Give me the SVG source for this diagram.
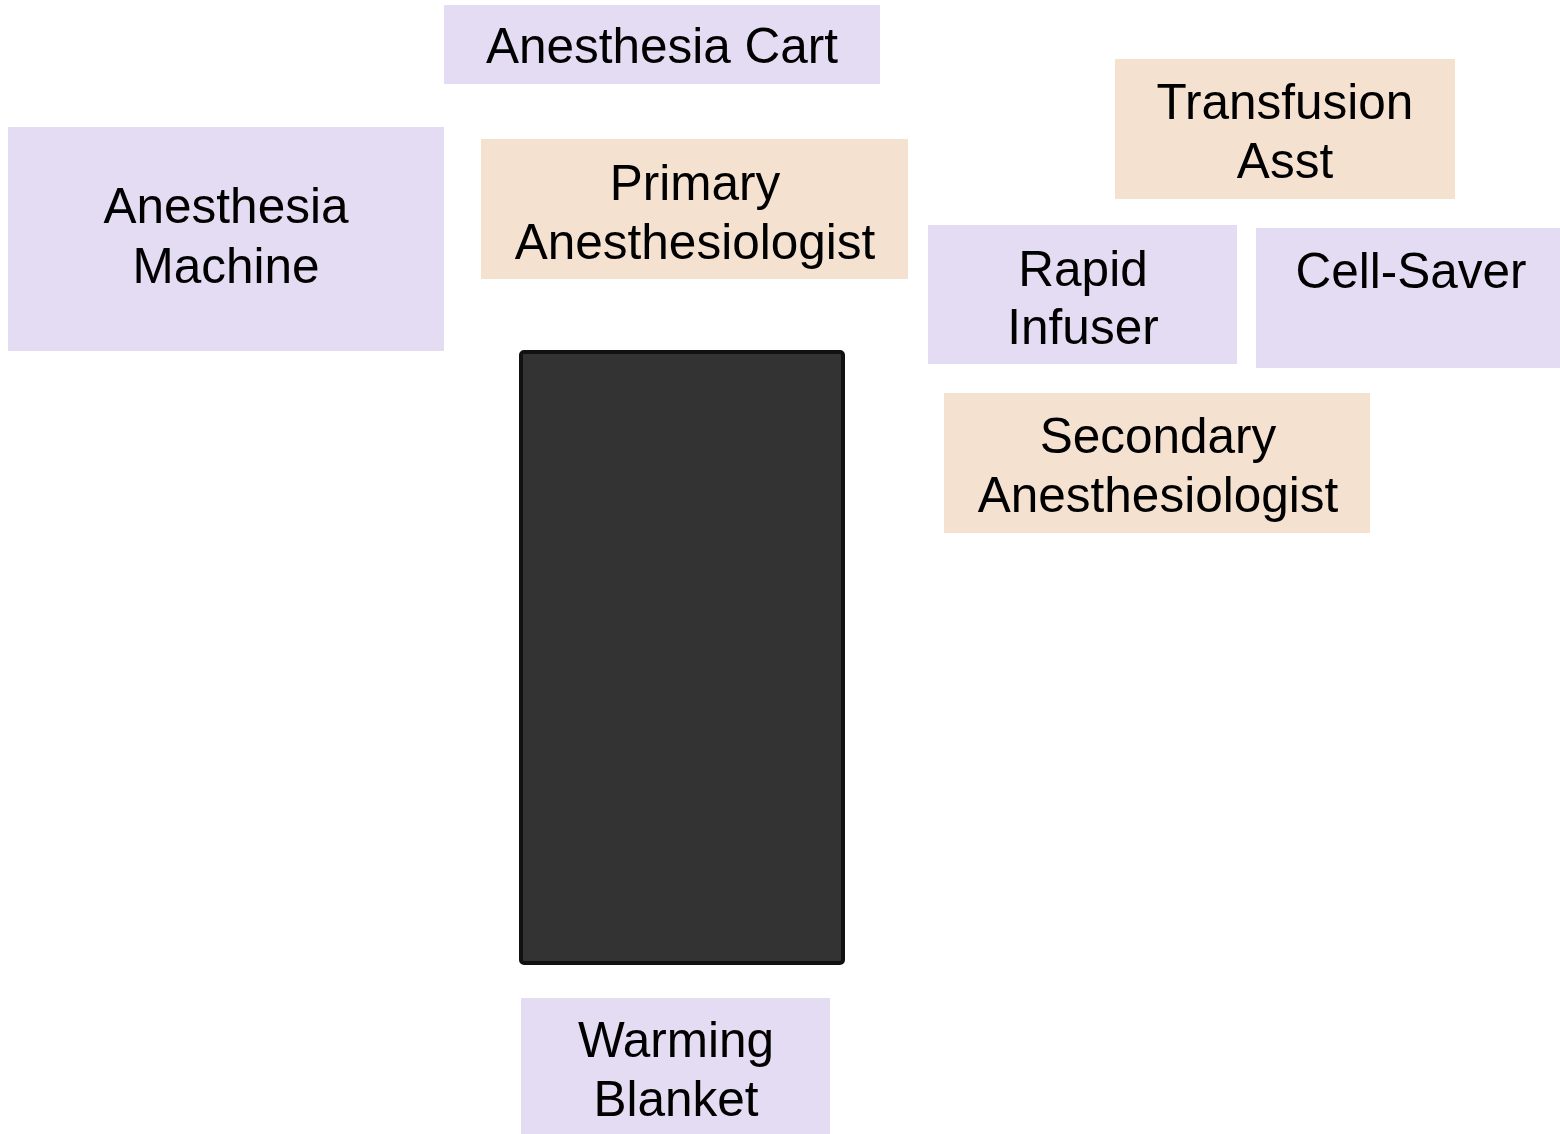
<svg xmlns="http://www.w3.org/2000/svg" width="1560" height="1134" viewBox="0 0 1560 1134">
  <style>
    .equip { fill: #e3dcf2; }
    .staff { fill: #f5e1d0; }
    .label { font-family: "Liberation Sans", Arial, sans-serif; font-size: 49.5px; fill: #000; text-anchor: middle; }
    .table { fill: #333333; stroke: #111111; stroke-width: 4; }
  </style>
  <rect width="1560" height="1134" fill="#ffffff"/>

  <g id="anesthesia-cart">
    <rect class="equip" x="444" y="5" width="436" height="79"/>
    <text class="label" x="662" y="63">Anesthesia Cart</text>
  </g>

  <g id="anesthesia-machine">
    <rect class="equip" x="8" y="127" width="436" height="224"/>
    <text class="label" x="226" y="223">Anesthesia</text>
    <text class="label" x="226" y="283">Machine</text>
  </g>

  <g id="primary-anesthesiologist">
    <rect class="staff" x="481" y="139" width="427" height="140"/>
    <text class="label" x="695" y="200">Primary</text>
    <text class="label" x="695" y="259">Anesthesiologist</text>
  </g>

  <g id="transfusion-asst">
    <rect class="staff" x="1115" y="59" width="340" height="140"/>
    <text class="label" x="1285" y="119">Transfusion</text>
    <text class="label" x="1285" y="178">Asst</text>
  </g>

  <g id="rapid-infuser">
    <rect class="equip" x="928" y="225" width="309" height="139"/>
    <text class="label" x="1083" y="286">Rapid</text>
    <text class="label" x="1083" y="344">Infuser</text>
  </g>

  <g id="cell-saver">
    <rect class="equip" x="1256" y="228" width="304" height="140"/>
    <text class="label" x="1411" y="288">Cell-Saver</text>
  </g>

  <g id="secondary-anesthesiologist">
    <rect class="staff" x="944" y="393" width="426" height="140"/>
    <text class="label" x="1158" y="453">Secondary</text>
    <text class="label" x="1158" y="512">Anesthesiologist</text>
  </g>

  <g id="operating-table">
    <rect class="table" x="521" y="352" width="322" height="611" rx="3"/>
  </g>

  <g id="warming-blanket">
    <rect class="equip" x="521" y="998" width="309" height="136"/>
    <text class="label" x="676" y="1057">Warming</text>
    <text class="label" x="676" y="1116">Blanket</text>
  </g>

  <g id="connectors"/>
</svg>
